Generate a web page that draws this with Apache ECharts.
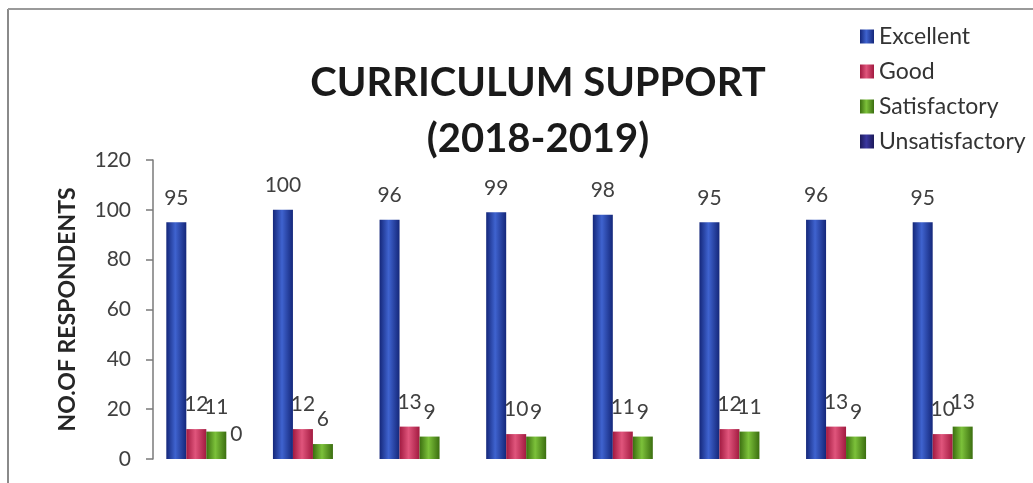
<!DOCTYPE html>
<html>
<head>
<meta charset="utf-8">
<script src="https://cdn.jsdelivr.net/npm/echarts@6/dist/echarts.min.js"></script>
<style>
html,body{margin:0;padding:0;background:#fff;}
#chart{width:1033px;height:483px;}
</style>
</head>
<body>
<div id="chart"></div>
<script>
var categories = ['1','2','3','4','5','6','7','8'];
var excellent = [95, 100, 96, 99, 98, 95, 96, 95];
var good = [12, 12, 13, 10, 11, 12, 13, 10];
var satisfactory = [11, 6, 9, 9, 9, 11, 9, 13];
var unsatisfactory = [0, null, null, null, null, null, null, null];
var yTicks = [0, 20, 40, 60, 80, 100, 120];

var FONT = 'Lato, "Open Sans", sans-serif';

function grad(dark, light) {
  return new echarts.graphic.LinearGradient(0, 0, 1, 0, [
    {offset: 0, color: dark},
    {offset: 0.45, color: light},
    {offset: 1, color: dark}
  ]);
}

function mkSeries(name, data, dark, light) {
  return {
    name: name,
    type: 'bar',
    data: data,
    barWidth: 20,
    barGap: '0%',
    itemStyle: {color: grad(dark, light)},
    label: {
      show: true,
      position: 'top',
      distance: 14,
      fontFamily: FONT,
      fontSize: 21,
      color: '#404040'
    }
  };
}

var chart = echarts.init(document.getElementById('chart'));
chart.setOption({
  animation: false,
  backgroundColor: '#fff',
  color: ['#23409e', '#c42a55', '#4f8c1a', '#262371'],
  title: {
    text: 'CURRICULUM SUPPORT\n(2018-2019)',
    left: 533,
    textAlign: 'center',
    top: 50,
    textStyle: {
      fontFamily: FONT,
      fontWeight: 'bold',
      fontSize: 40,
      lineHeight: 56,
      color: '#1a1a1a'
    }
  },
  legend: {
    orient: 'vertical',
    left: 855,
    top: 20,
    itemWidth: 14,
    itemHeight: 14,
    itemGap: 12,
    icon: 'rect',
    textStyle: {fontFamily: FONT, fontSize: 23, color: '#333', lineHeight: 21},
    data: ['Excellent', 'Good', 'Satisfactory', 'Unsatisfactory']
  },
  graphic: [
    {type: 'line', shape: {x1: 8, y1: 9, x2: 8, y2: 483}, style: {stroke: '#8a8a8a', lineWidth: 2}},
    {type: 'line', shape: {x1: 8, y1: 9, x2: 1033, y2: 9}, style: {stroke: '#9a9a9a', lineWidth: 2}}
  ],
  grid: {left: 153, right: 27, top: 160, bottom: 24, containLabel: false},
  xAxis: {
    type: 'category',
    data: categories,
    axisLine: {show: false},
    axisTick: {show: false},
    axisLabel: {show: false}
  },
  yAxis: {
    type: 'value',
    min: 0,
    max: 120,
    interval: 20,
    name: 'NO.OF RESPONDENTS',
    nameLocation: 'middle',
    nameGap: 74,
    nameRotate: 90,
    nameTextStyle: {fontFamily: FONT, fontWeight: 'bold', fontSize: 23, color: '#262626'},
    axisLine: {show: true, lineStyle: {color: '#7a7a7a', width: 1.5}},
    axisTick: {show: true, length: 7, lineStyle: {color: '#7a7a7a', width: 1.5}},
    axisLabel: {
      fontFamily: FONT, fontSize: 21, color: '#404040', margin: 22,
      formatter: function (v) { return yTicks.indexOf(v) >= 0 ? String(v) : ''; }
    },
    splitLine: {show: false}
  },
  series: [
    mkSeries('Excellent', excellent, '#14277a', '#3f63cf'),
    mkSeries('Good', good, '#a21a40', '#e0557c'),
    mkSeries('Satisfactory', satisfactory, '#3b6e10', '#7cc13a'),
    mkSeries('Unsatisfactory', unsatisfactory, '#1c1a5a', '#3a37a0')
  ]
});
</script>
</body>
</html>
